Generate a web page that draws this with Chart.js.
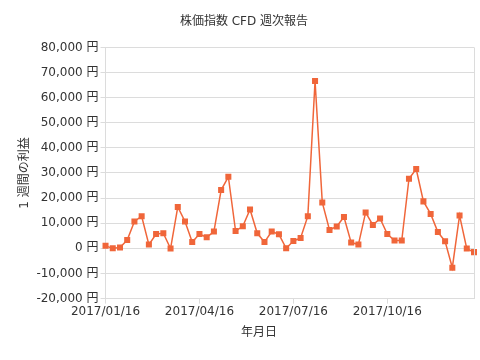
<!DOCTYPE html>
<html>
<head>
<meta charset="utf-8">
<script src="https://cdn.jsdelivr.net/npm/chart.js@4"></script>
<style>
  html, body { margin: 0; padding: 0; background: #fff; }
  #wrap { width: 480px; height: 360px; }
</style>
</head>
<body>
<div id="wrap"><canvas id="weekly"></canvas></div>
<script>
// weekly profit, yen (52 weeks from 2017/01/16)
const profits = [
  1000, 0, 300, 3300, 10700, 12800, 1500, 5700, 6000, -100,
  16500, 10700, 2500, 5700, 4400, 6700, 23200, 28500, 6900, 8800,
  15500, 6000, 2500, 6700, 5600, 0, 2900, 4100, 12800, 66600,
  18300, 7300, 8700, 12500, 2300, 1500, 14300, 9300, 11900, 5700,
  3100, 3100, 27700, 31600, 18700, 13700, 6500, 2800, -7700, 13100,
  -100, -1500
];
const tickLabels = ['2017/01/16', '2017/04/16', '2017/07/16', '2017/10/16'];
const tickWeeks = [0, 13, 26, 39];
const yTicks = { min: -20000, max: 80000, step: 10000 };

const labels = profits.map((_, i) => {
  const k = tickWeeks.indexOf(i);
  return k >= 0 ? tickLabels[k] : '';
});

const FONT = "'DejaVu Sans', 'Noto Sans CJK JP', sans-serif";
const TEXT = '#333';
const GRID = '#dcdcdc';

// frame round the plot + x axis title placed like the original
const extras = {
  id: 'extras',
  afterDraw(chart) {
    const { ctx, chartArea: a } = chart;
    ctx.save();
    ctx.strokeStyle = GRID;
    ctx.lineWidth = 1;
    ctx.beginPath();
    ctx.moveTo(a.right + 0.5, a.top);
    ctx.lineTo(a.right + 0.5, a.bottom);
    ctx.stroke();
    ctx.fillStyle = TEXT;
    ctx.font = '12px ' + FONT;
    ctx.textAlign = 'center';
    ctx.textBaseline = 'middle';
    ctx.fillText('年月日', 259, 333);
    ctx.restore();
  }
};

new Chart(document.getElementById('weekly'), {
  type: 'line',
  data: {
    labels: labels,
    datasets: [{
      data: profits,
      borderColor: '#f0663a',
      backgroundColor: '#f0663a',
      borderWidth: 1.5,
      pointStyle: 'rect',
      pointRadius: 3.2,
      pointHoverRadius: 3.2,
      tension: 0
    }]
  },
  options: {
    responsive: true,
    maintainAspectRatio: false,
    animation: false,
    layout: { padding: { left: 14, right: 6, top: 9, bottom: 40 } },
    plugins: {
      legend: { display: false },
      tooltip: { enabled: false },
      title: {
        display: true,
        text: '株価指数 CFD 週次報告',
        color: TEXT,
        font: { family: FONT, size: 12, weight: 'normal' },
        padding: { top: 6, bottom: 18 }
      }
    },
    scales: {
      x: {
        afterBuildTicks(scale) {
          scale.ticks = scale.ticks.filter(t => tickWeeks.includes(t.value));
        },
        grid: { display: true, drawOnChartArea: false, color: GRID, tickLength: 5 },
        border: { color: GRID },
        ticks: {
          autoSkip: false,
          maxRotation: 0,
          color: TEXT,
          padding: 1,
          font: { family: FONT, size: 12 },
          callback(v) { return this.getLabelForValue(v); }
        }
      },
      y: {
        min: yTicks.min,
        max: yTicks.max,
        grid: { color: GRID, tickLength: 5 },
        border: { color: GRID },
        title: {
          display: true,
          text: '1 週間の利益',
          color: TEXT,
          font: { family: FONT, size: 12 },
          padding: { bottom: 2 }
        },
        ticks: {
          stepSize: yTicks.step,
          color: TEXT,
          padding: 2,
          font: { family: FONT, size: 12 },
          callback: v => v.toLocaleString('en-US') + ' 円'
        }
      }
    }
  },
  plugins: [extras]
});
</script>
</body>
</html>
